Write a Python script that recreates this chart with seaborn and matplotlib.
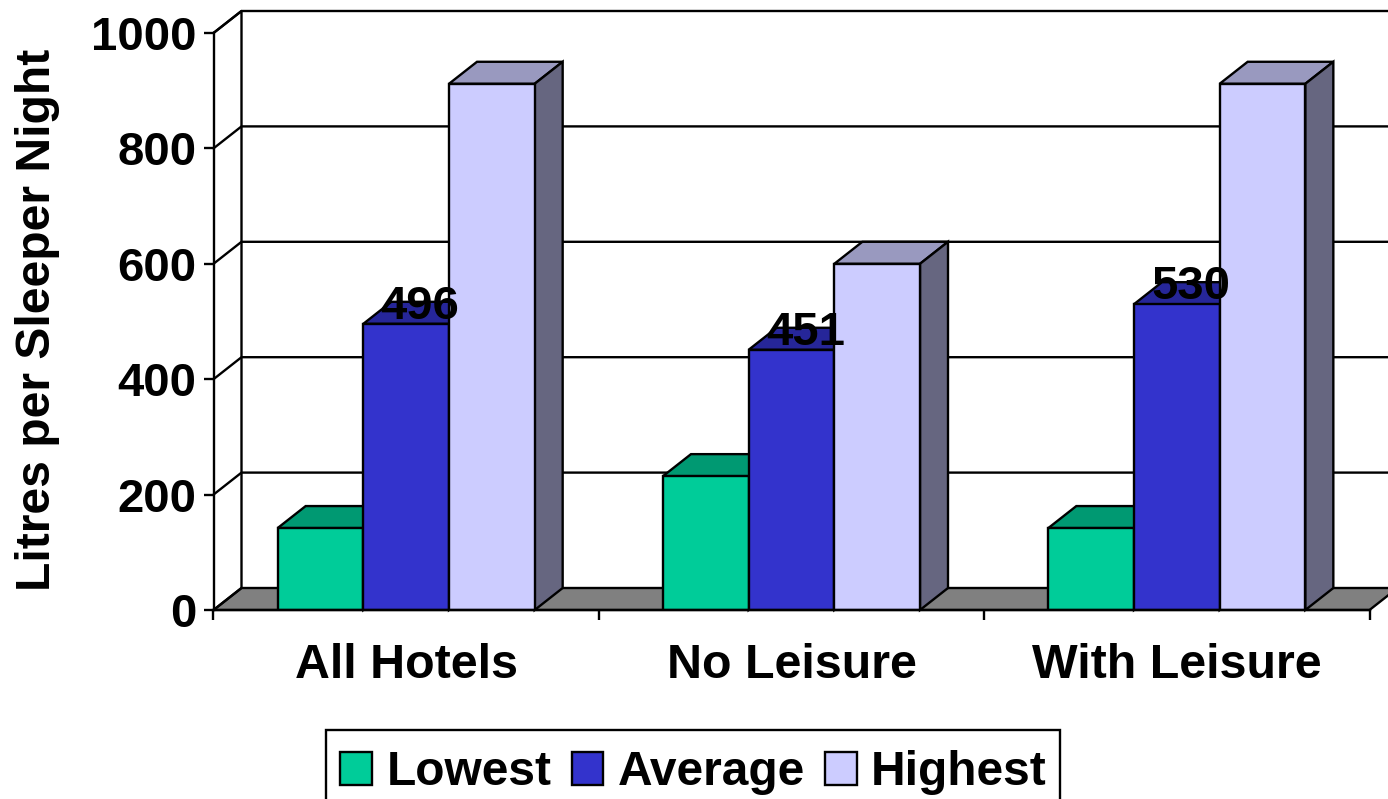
import matplotlib
matplotlib.use("Agg")
import matplotlib.pyplot as plt
import pandas as pd
import seaborn as sns
from matplotlib.patches import Polygon, Rectangle

categories = ["All Hotels", "No Leisure", "With Leisure"]
series_names = ["Lowest", "Average", "Highest"]
lowest = [142, 232, 142]
average = [496, 451, 530]
highest = [912, 600, 912]
y_ticks = [0, 200, 400, 600, 800, 1000]
y_label = "Litres per Sleeper Night"

front_colors = ["#00CC99", "#3333CC", "#CCCCFF"]
top_colors = ["#009972", "#262699", "#9999BF"]
side_colors = ["#006B50", "#1A1A66", "#666680"]
FONT = "Liberation Sans"
LW = 1.7

W, H = 1388, 799
L, R, T, B = 213.5, 1369.5, 33, 610

df = pd.DataFrame({
    "category": categories * 3,
    "series": sum([[n] * 3 for n in series_names], []),
    "value": lowest + average + highest,
})

sns.set_theme(style="white")
plt.rcParams["font.family"] = [FONT, "DejaVu Sans"]
fig = plt.figure(figsize=(W / 100, H / 100), dpi=100, facecolor="white")
ax = fig.add_axes([L / W, 1 - B / H, (R - L) / W, (B - T) / H])

sns.barplot(data=df, x="category", y="value", hue="series", order=categories,
            hue_order=series_names, palette=front_colors, width=0.667, gap=0,
            saturation=1, edgecolor="black", linewidth=LW, ax=ax, legend=False, zorder=5)

ax.set_xlim(-0.5, 2.5)
ax.set_ylim(0, 1000)
DX = 28 / ((R - L) / 3)       # depth in category units
DY = 22 / ((B - T) / 1000)    # depth in value units
XR = 2.5 + DX

# floor and walls
ax.add_patch(Polygon([(-0.5, 0), (-0.5 + DX, DY), (XR, DY), (XR - DX, 0)], closed=True,
                     fc="#808080", ec="black", lw=LW, clip_on=False, zorder=1))
ax.plot([-0.5, -0.5 + DX, -0.5 + DX, -0.5], [0, DY, 1000 + DY, 1000], color="black", lw=LW,
        clip_on=False, zorder=2)
for v in y_ticks[1:]:
    ax.plot([-0.5, -0.5 + DX, XR], [v, v + DY, v + DY], color="black", lw=LW,
            clip_on=False, zorder=2)

# bar depth faces, derived from the bars seaborn drew
bars = [p for p in ax.patches if isinstance(p, Rectangle)]
for p, i in zip(bars, [i for i in range(3) for _ in range(3)]):
    x0, x1, h = p.get_x(), p.get_x() + p.get_width(), p.get_height()
    ax.add_patch(Polygon([(x0, h), (x0 + DX, h + DY), (x1 + DX, h + DY), (x1, h)], closed=True,
                         fc=top_colors[i], ec="black", lw=LW, clip_on=False, zorder=4))
    ax.add_patch(Polygon([(x1, 0), (x1 + DX, DY), (x1 + DX, h + DY), (x1, h)], closed=True,
                         fc=side_colors[i], ec="black", lw=LW, clip_on=False, zorder=4))

# value labels on the average bars
for j, v in enumerate(average):
    ax.text(j + 0.036, v + 29, str(v), ha="center", va="center", fontsize=34,
            fontweight="bold", color="black", zorder=8)

for s in ["top", "right"]:
    ax.spines[s].set_visible(False)
for s in ["left", "bottom"]:
    ax.spines[s].set_linewidth(LW)
    ax.spines[s].set_color("black")
    ax.spines[s].set_zorder(6)

ax.set_yticks(y_ticks)
ax.set_xticks([-0.5, 0.5, 1.5, 2.5], minor=False, labels=["", "", "", ""])
ax.set_xticks([0, 1, 2], minor=True, labels=categories)
ax.tick_params(axis="x", which="major", length=7.2, width=LW, color="black", bottom=True)
ax.tick_params(axis="x", which="minor", length=0, pad=24, labelsize=34.8)
ax.tick_params(axis="y", length=7.5, width=LW, color="black", left=True, pad=5, labelsize=34)
for t in ax.get_xticklabels(minor=True) + ax.get_yticklabels():
    t.set_fontweight("bold")
    t.set_color("black")
ax.set_xlabel("")
ax.set_ylabel("")
fig.text(38 / W, 1 - 320 / H, y_label, rotation=90, ha="center", va="center",
         fontsize=34.6, fontweight="bold", color="black")

# legend: the box runs off the bottom of the figure, so its frame is drawn separately
fig.add_artist(Rectangle((326 / W, 1 - 830 / H), (1060 - 326) / W, 100 / H, transform=fig.transFigure,
                         fc="white", ec="black", lw=LW, zorder=3))
handles = [Rectangle((0, 0), 1, 1, fc=c, ec="black", lw=LW) for c in front_colors]
leg = fig.legend(handles, series_names, loc="upper left",
                 bbox_to_anchor=(326 / W, 1 - 736 / H), ncol=3, frameon=False, labelcolor="black",
                 prop={"family": FONT, "weight": "bold", "size": 34.5},
                 handlelength=0.66, handleheight=0.66, handletextpad=0.3, columnspacing=0.42,
                 borderpad=0.3, borderaxespad=0)
leg.set_zorder(4)

fig.savefig("out.png", dpi=100)
